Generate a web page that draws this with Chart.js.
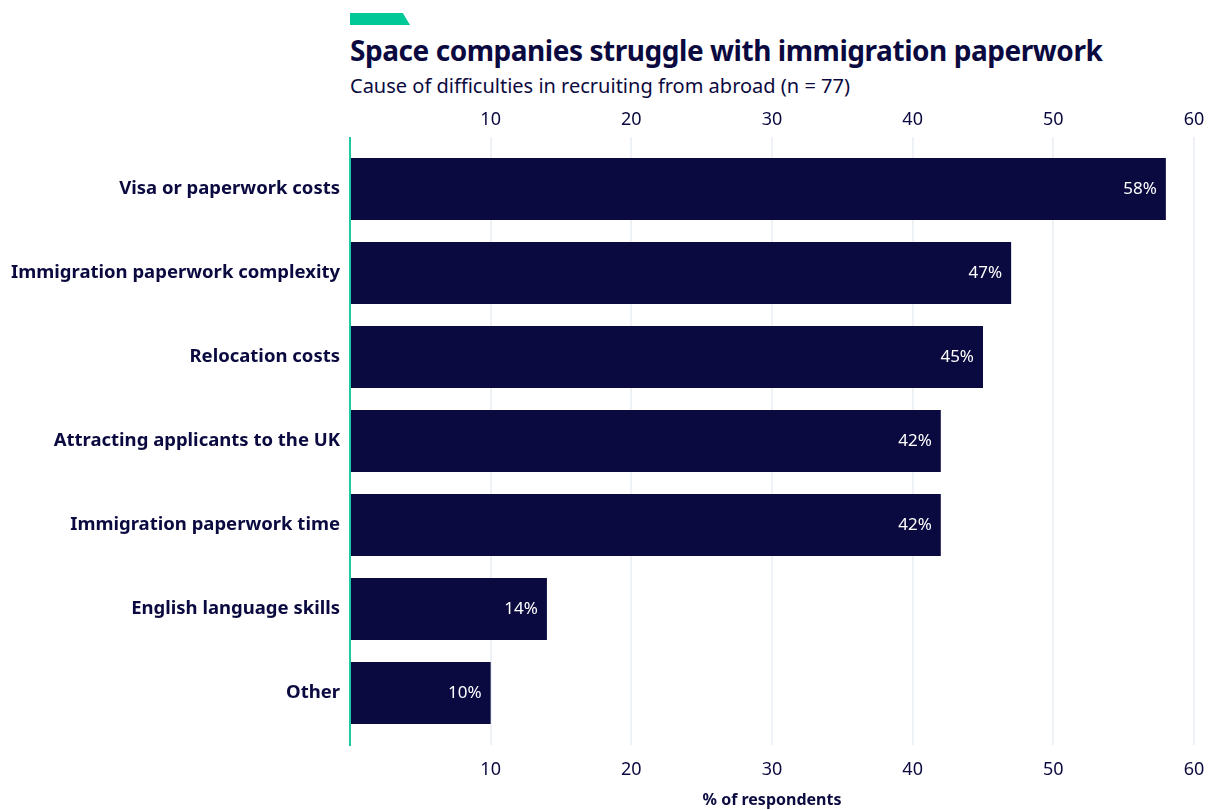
<!DOCTYPE html>
<html>
<head>
<meta charset="utf-8">
<script src="https://cdn.jsdelivr.net/npm/chart.js@4"></script>
<style>
  html, body { margin: 0; padding: 0; background: #fff; }
  body { width: 1213px; height: 810px; position: relative; overflow: hidden; font-family: "Noto Sans", sans-serif; color: #0b0a40; }
  .accent { position: absolute; left: 350px; top: 13px; width: 60px; height: 12px; background: #00c896;
            clip-path: polygon(0 0, 88% 0, 100% 100%, 0 100%); }
  h1 { position: absolute; left: 350px; top: 31px; margin: 0; font-size: 28px; font-weight: 700; letter-spacing: -0.45px; }
  .sub { position: absolute; left: 350px; top: 72px; margin: 0; font-size: 20px; }
  #wrap { position: absolute; left: 0; top: 0; width: 1213px; height: 810px; }
</style>
</head>
<body>
<div class="accent"></div>
<h1>Space companies struggle with immigration paperwork</h1>
<p class="sub">Cause of difficulties in recruiting from abroad (n = 77)</p>
<div id="wrap"><canvas id="chart"></canvas></div>
<script>
const categories = [
  'Visa or paperwork costs',
  'Immigration paperwork complexity',
  'Relocation costs',
  'Attracting applicants to the UK',
  'Immigration paperwork time',
  'English language skills',
  'Other'
];
const shares = [58, 47, 45, 42, 42, 14, 10];
const xTicks = [10, 20, 30, 40, 50, 60];

const navy = '#0b0a40';
const teal = '#1dc9a0';
const gridColor = '#eef2f7';

const barLabels = {
  id: 'barLabels',
  afterDatasetsDraw(chart) {
    const ctx = chart.ctx;
    const meta = chart.getDatasetMeta(0);
    ctx.save();
    ctx.fillStyle = '#ffffff';
    ctx.font = '17px "Noto Sans"';
    ctx.textAlign = 'right';
    ctx.textBaseline = 'middle';
    meta.data.forEach((bar, i) => {
      ctx.fillText(shares[i] + '%', bar.x - 9, bar.y);
    });
    ctx.restore();
  }
};

const axisLine = {
  id: 'axisLine',
  afterDatasetsDraw(chart) {
    const {ctx, chartArea} = chart;
    ctx.save();
    ctx.strokeStyle = teal;
    ctx.lineWidth = 2;
    ctx.beginPath();
    ctx.moveTo(chartArea.left, chartArea.top - 10);
    ctx.lineTo(chartArea.left, chartArea.bottom + 11);
    ctx.stroke();
    ctx.restore();
  }
};

function xAxis(position, height, pad) {
  return {
    type: 'linear',
    position,
    min: 0,
    max: 60,
    afterBuildTicks: (scale) => { scale.ticks = xTicks.map(v => ({value: v})); },
    afterFit: (scale) => {
      scale.height = height;
      scale.paddingLeft = 0;
      scale.paddingRight = 0;
    },
    grid: { color: gridColor, lineWidth: 2, tickLength: 10, drawTicks: true },
    border: { display: false },
    ticks: { color: navy, font: { family: 'Noto Sans', size: 18 }, padding: pad }
  };
}

const bottomAxis = xAxis('bottom', 75, 14);
bottomAxis.title = {
  display: true,
  text: '% of respondents',
  color: navy,
  font: { family: 'Noto Sans', size: 16, weight: 'bold' },
  padding: { top: 4, bottom: 0 }
};
const topAxis = xAxis('top', 47, 6);
topAxis.grid = { ...topAxis.grid, drawOnChartArea: false };

new Chart(document.getElementById('chart'), {
  type: 'bar',
  data: {
    labels: categories,
    datasets: [{
      data: shares,
      backgroundColor: navy,
      borderWidth: 0,
      categoryPercentage: 1,
      barPercentage: 0.74
    }]
  },
  options: {
    indexAxis: 'y',
    responsive: true,
    maintainAspectRatio: false,
    animation: false,
    layout: { padding: { top: 100, right: 19, bottom: 0, left: 0 } },
    plugins: {
      legend: { display: false },
      tooltip: { enabled: false }
    },
    scales: {
      x: bottomAxis,
      x2: topAxis,
      y: {
        afterFit: (scale) => { scale.width = 350; },
        grid: { display: false },
        border: { display: false },
        ticks: { color: navy, font: { family: 'Noto Sans', size: 18.5, weight: 'bold' }, padding: 2 }
      }
    }
  },
  plugins: [barLabels, axisLine]
});
</script>
</body>
</html>
